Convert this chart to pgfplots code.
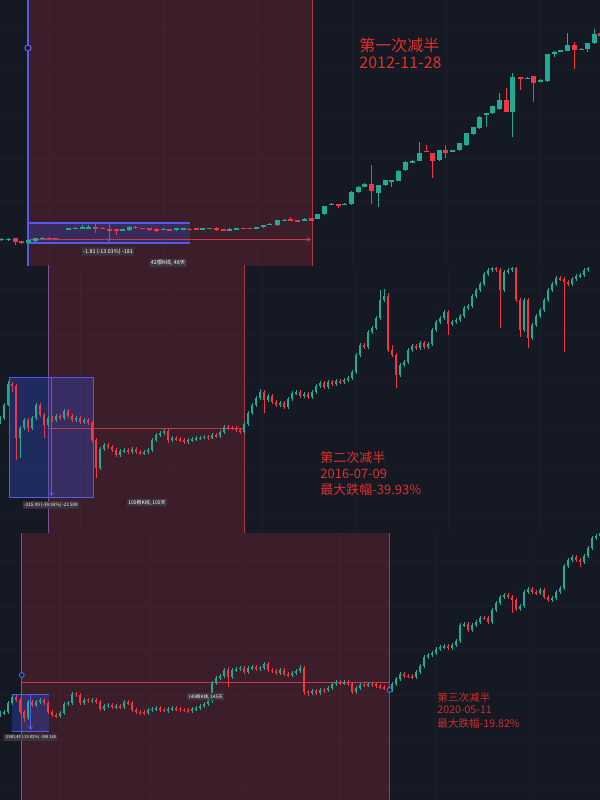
\documentclass[border=0pt]{standalone}
\usepackage{pgfplots}
\pgfplotsset{compat=1.18}
\usepackage{pgfplotstable}
\usepackage{fontspec}
\newfontfamily\cjk{Noto Sans CJK SC}
\usetikzlibrary{arrows.meta}

\definecolor{bg}{RGB}{21,25,36}
\definecolor{redreg}{RGB}{59,30,42}
\definecolor{cgreen}{RGB}{34,171,148}
\definecolor{cred}{RGB}{242,54,69}
\definecolor{tred}{RGB}{226,48,42}
\definecolor{tred3}{RGB}{208,44,40}
\definecolor{edgered}{RGB}{176,52,66}
\definecolor{edgepurple}{RGB}{130,80,150}
\definecolor{cblue}{RGB}{82,92,232}
\definecolor{boxblue}{RGB}{50,75,205}
\definecolor{lblbg}{RGB}{62,52,62}
\definecolor{hline}{RGB}{196,58,76}

% panel 1 candles (x, open, close, high, low) in picture units (y downward)
\pgfplotstableread{
x o c h l
1.9 239.8 238.8 238 240.5
8.4 240 238.7 238 241
15.3 238.3 241.7 237.5 245
21.8 241.3 242.3 240.5 243.5
28.7 242.7 240 239.5 243.5
35.6 240.7 238.3 237.5 241.5
42.1 238.7 237.7 237 239
49 237.6 238.4 237 239
55.5 238 238.7 237.5 239.3
68.9 229.3 228.3 228 229.8
75.4 228.6 227.6 227 229
82.3 228 227.2 224.5 228.5
88.8 228 227.2 224.7 228.5
95.7 226.7 228.7 224 233.3
102.6 227.5 228.5 227 229
109.1 228.7 230.3 228 231
116 229.3 231.3 228.5 235
122.5 230.3 229.3 228.8 231
129.4 230 226.7 226 230.5
135.9 226.7 228 226 228.5
142.7 228 228.7 227.5 229.2
149.3 228.3 230 227.8 230.5
156.1 228.7 230.7 228.2 231.5
163 229.8 228.8 228.3 230.3
169.5 229.1 229.9 228.5 230.5
176.4 230 228.3 227.8 230.5
183 229.2 228.4 228 229.6
189.4 228.7 229.3 228.2 229.8
196.3 228 229.7 227.5 230.2
202.8 229 228 227.5 229.5
209.7 228.7 228 227.5 229.2
216.2 227.7 230 227.2 230.5
223.1 229.3 230 228.8 230.5
229.6 230.7 228.7 228.2 231.2
236.5 229.2 228.4 228 229.6
243 228 228.7 227.6 229.1
249.5 228 228.7 227.6 229.1
256.4 228.7 227.3 226.8 229.2
263.3 227.3 225.3 224.8 227.8
269.8 224.6 223.8 223.3 225
277.5 225 220 219.5 225.5
284 220.5 219.5 219 221
290.9 219 220.7 217 221.2
297.7 220 221.7 219.5 222.2
304.3 220.7 218.7 218.2 221.2
311.1 218.3 220.7 217.8 221.2
317.6 218.7 214.3 213.8 219.2
324.5 214.3 206 205.5 214.8
331.4 204.6 203.6 202.5 205
338.3 204 206 203.5 208.3
344.8 204.5 203.6 203 205
351.3 204 191.7 191.2 204.5
358.2 192 186.7 186.2 192.5
364.7 186.7 184.3 183 187.2
371.2 184 190.7 165 204
378.1 192.7 185 184.5 206.7
385 185 180 179.5 185.5
391.9 181.7 180 179.5 187
398.8 180.7 170.7 170.2 181.2
405.7 170 161.7 161.2 170.5
412.5 162.7 160.7 160.2 163.2
419.1 160.7 152.7 141.7 161.2
426 150.7 151.7 145 152.2
432.5 153.3 160.7 152.8 178.3
439.3 160 150 149.5 160.5
445.8 150 152.7 145.3 158
452.7 151.7 150 149.5 152.2
459.2 150 143.3 142.8 150.5
466.1 145 133.3 132.8 145.5
473 134 127.3 126.8 134.5
479.9 128.3 116.7 116.2 128.8
486.8 115 113.3 112.8 126.7
492.9 113.3 106 105.5 113.8
499.4 109.3 100 93.3 109.8
506.3 100 111.7 88.3 112.2
512.8 111.7 77.3 73.3 136.7
520.5 77.3 79.3 76.8 90
527 78.8 77.8 77.3 79.3
533.9 76 82.7 75.5 101.7
540.4 81.2 80.2 79 81.7
547.3 81 54 53.5 81.5
554.2 54 51.7 51.2 57
560.6 51.7 50 49.5 52.2
567.5 50.7 45 33.3 51.2
574 45.3 50 42 69.3
581 49.5 48.5 48 50
587.8 49 43.3 42.8 52
594 43.3 34.3 29 43.8
600.5 33 36 32 36.5
}\pA

% panel 2 candles
\pgfplotstableread{
x o c h l
0 422 418 416 424
4 418 405 403 420
8 405 384 381 406
12 384 386 382 392
16 386 438 384 460
20 438 428 426 458
24 428 420 418 430
28 420 428 418 432
32 428 418 416 430
36 418 405 403 420
40 405 415 403 417
44 415 425 413 438
48 425 418 416 427
52 418 420 416 422
56 420 416 414 422
60 416 418 414 420
64 418 411 409 420
68 411 416 409 418
72 416 420 414 422
76 420 418 416 422
80 418 422 416 424
84 422 420 418 424
88 420 423 418 425
92 423 440 421 442
96 440 468 438 478
100 468 449 447 470
104 449 445 443 451
108 445 447 443 449
112 447 450 445 452
116 450 455 448 457
120 455 451 449 457
124 451 450 448 453
128 450 452 448 454
132 452 449 447 454
136 449 452 447 454
140 452 453 450 455
144 453 452 450 455
148 452 450 448 454
152 450 440 438 452
156 440 435 433 442
160 435 433 431 437
164 433 431 429 435
168 431 440 429 443
172 440 438 436 442
176 438 439 436 441
180 439 440 437 442
184 440 442 438 444
188 442 440 438 444
192 440 439 437 442
196 439 438.5 436 441
200 438.5 437.5 436 440
204 437.5 437 435 439
208 437 437.5 435 439.5
212 437.5 435 433 439
216 435 436 433 438
220 436 432 430 438
224 432 427 425 434
228 427 428 425 430
232 428 428.5 426 430
236 428.5 430 426 432
240 430 432 428 434
244 432 424 422 434
248 424 413 411 426
252 413 405 403 415
256 405 398 396 407
260 398 392 389 400
264 392 400 390 413
268 400 396 394 402
272 396 402 394 404
276 402 405 400 407
280 405 403 401 407
284 403 407 401 409
288 407 399 397 409
292 399 393 391 401
296 393 392 390 395
300 392 396 390 398
304 396 394 392 398
308 394 397 392 399
312 397 392 390 399
316 392 386 384 394
320 386 383 381 388
324 383 387 381 389
328 387 382 380 389
332 382 384 380 386
336 384 381 379 386
340 381 382 379 384
344 382 380 378 384
348 380 378 376 382
352 378 372 370 380
356 372 355 353 374
360 355 345 343 357
364 345 347 343 349
368 347 332 330 349
372 332 328 326 334
376 328 318 316 330
380 318 300 290 320
384 300 296 289 302
388 296 350 293 352
392 350 355 345 357
396 355 375 353 388
400 375 365 363 377
404 365 362 360 367
408 362 350 348 364
412 350 346 344 352
416 346 348 344 350
420 348 343 341 350
424 343 347 341 349
428 347 344 342 349
432 344 330 328 346
436 330 322 320 332
440 322 318 316 324
444 318 312 310 320
448 312 324 310 335
452 324 322 320 326
456 322 320 318 324
460 320 316 314 322
464 316 308 306 318
468 308 306 304 310
472 306 296 294 308
476 296 290 288 298
480 290 284 282 292
484 284 274 272 286
488 274 270 268 276
492 270 268 267 272
496 268 270 267 272
500 270 290 268 328
504 290 272 270 292
508 272 270 268 274
512 270 268 267 272
516 268 300 267 302
520 300 330 298 337
524 330 300 298 332
528 300 338 298 348
532 338 325 323 340
536 325 316 314 327
540 316 310 308 318
544 310 300 298 312
548 300 290 288 302
552 290 284 282 292
556 284 278 276 286
560 278 279 276 281
564 279 282 277 352
568 282 284 280 286
572 284 279 277 286
576 279 276 274 281
580 276 275 273 278
584 275 270 268 277
588 270 268 267 272
}\pB

% panel 3 candles
\pgfplotstableread{
x o c h l
0 715 713 711 717
4 713 712 710 715
8 712 703 701 714
12 703 697 695 705
16 697 700 695 702
20 700 712 698 714
24 712 718 710 722
28 718 702 700 720
32 702 705 700 707
36 705 702 700 707
40 702 700 698 704
44 700 703 698 705
48 703 712 701 714
52 712 715 710 717
56 715 716 713 718
60 716 713 711 718
64 713 704 702 715
68 704 703 701 706
72 703 694 692 705
76 694 695 692 697
80 695 703 693 705
84 703 700 698 705
88 700 701 698 703
92 701 700 698 703
96 700 702 698 704
100 702 709 700 711
104 709 706 704 711
108 706 705 703 708
112 705 707 703 709
116 707 706 704 709
120 706 707 704 709
124 707 702 700 709
128 702 703 700 705
132 703 710 701 712
136 710 712 708 714
140 712 712.5 710 714.5
144 712.5 713 710.5 715
148 713 710 708 715
152 710 709 707 712
156 709 708 706 711
160 708 710 706 712
164 710 710.5 708 712.5
168 710.5 709 707 712.5
172 709 708 706 711
176 708 709 706 711
180 709 710 707 712
184 710 710.5 708 712.5
188 710.5 711 708.5 713
192 711 709 707 713
196 709 708 706 711
200 708 706 704 710
204 706 704 702 708
208 704 701 699 706
212 701 683 681 703
216 683 678 676 685
220 678 676 674 680
224 676 670 668 678
228 670 677 667 687
232 677 670 668 679
236 670 669 667 672
240 669 668 666 671
244 668 672 666 674
248 672 668 666 674
252 668 667 665 670
256 667 669 665 671
260 669 668 666 671
264 668 664 662 670
268 664 670 662 672
272 670 671 668 673
276 671 673 669 675
280 673 670 668 675
284 670 674 668 676
288 674 675 672 677
292 675 673 671 677
296 673 671 669 675
300 671 668 665 673
304 668 692 666 695
308 692 693 690 696
312 693 691 689 695
316 691 693 689 695
320 693 690 688 695
324 690 690.5 688 692.5
328 690.5 688 686 692.5
332 688 684 682 690
336 684 682 680 686
340 682 683 680 685
344 683 682 680 685
348 682 684 680 686
352 684 692 682 694
356 692 688 686 694
360 688 685 683 690
364 685 685.5 683 687.5
368 685.5 684 682 687.5
372 684 684.5 682 686.5
376 684.5 686 682.5 688
380 686 687 684 689
384 687 688 685 690
388 688 690 686 692
392 690 684 682 692
396 684 679 677 686
400 679 674 672 681
404 674 676 672 678
408 676 676.5 674 678.5
412 676.5 677 674.5 679
416 677 672 670 679
420 672 666 664 674
424 666 657 655 668
428 657 655 653 659
432 655 653 651 657
436 653 649 647 655
440 649 647 645 651
444 647 646 644 649
448 646 648 644 650
452 648 645 643 650
456 645 641 639 647
460 641 625 623 643
464 625 624 622 627
468 624 630 622 632
472 630 625 623 632
476 625 622 620 627
480 622 618 616 624
484 618 618.5 616 620.5
488 618.5 622 616.5 624
492 622 610 608 624
496 610 603 601 612
500 603 597 595 605
504 597 595 593 599
508 595 597 593 599
512 597 600 595 613
516 600 609 598 611
520 609 606 604 611
524 606 592 590 608
528 592 589 587 594
532 589 592 587 594
536 592 593 590 595
540 593 590 588 595
544 590 597 588 599
548 597 600 595 602
552 600 598 596 602
556 598 592 590 600
560 592 588 586 594
564 588 566 564 590
568 566 560 558 568
572 560 557 555 562
576 557 560 555 562
580 560 562 558 567
584 562 556 554 564
588 556 548 546 558
592 548 538 536 550
596 538 536 534 540
600 536 533 532 538
}\pC

\pgfplotsset{
  candle/.style n args={2}{only marks, mark=*, mark size=0pt,
    mark options={draw opacity=0, fill opacity=0},
    error bars/.cd, y dir=both, y explicit, error mark=none,
    error bar style={draw=#1, draw opacity=1, line width=#2}},
}

\newcommand{\candles}[3]{%
  \addplot[restrict expr to domain={\thisrow{c}-\thisrow{o}}{-1000:0}, candle={cgreen}{#3}]
    table[x=x, y expr={(\thisrow{h}+\thisrow{l})/2}, y error expr={(\thisrow{l}-\thisrow{h})/2}] {#1};
  \addplot[restrict expr to domain={\thisrow{c}-\thisrow{o}}{-1000:0}, candle={cgreen}{#2}]
    table[x=x, y expr={(\thisrow{o}+\thisrow{c})/2}, y error expr={max(abs(\thisrow{c}-\thisrow{o})/2,0.45)}] {#1};
  \addplot[restrict expr to domain={\thisrow{c}-\thisrow{o}}{0.001:1000}, candle={cred}{#3}]
    table[x=x, y expr={(\thisrow{h}+\thisrow{l})/2}, y error expr={(\thisrow{l}-\thisrow{h})/2}] {#1};
  \addplot[restrict expr to domain={\thisrow{c}-\thisrow{o}}{0.001:1000}, candle={cred}{#2}]
    table[x=x, y expr={(\thisrow{o}+\thisrow{c})/2}, y error expr={max(abs(\thisrow{c}-\thisrow{o})/2,0.45)}] {#1};
}

\tikzset{
  lbl/.style={fill=lblbg, text=white, inner sep=0.7pt, rounded corners=0.3pt, font=\cjk\fontsize{2.7}{3}\selectfont},
  big/.style={anchor=west, text=tred, inner sep=0pt},
  grd/.style={white, opacity=0.025, line width=0.4pt},
}

\begin{document}
\begin{tikzpicture}
\begin{axis}[
  width=300pt, height=400pt, scale only axis,
  xmin=0, xmax=600, ymin=0, ymax=800, y dir=reverse,
  axis line style={draw=none}, ticks=none,
  axis background/.style={fill=bg},
  clip=true, clip marker paths=true,
]
% shaded halving regions
\fill[redreg] (axis cs:28,0) rectangle (axis cs:312,266);
\fill[redreg] (axis cs:48.6,265) rectangle (axis cs:244,533);
\fill[redreg] (axis cs:21.8,533) rectangle (axis cs:389.6,800);

% faint grid
\pgfplotsinvokeforeach{49,163,257,352,446,540}{\draw[grd] (axis cs:#1,0) -- (axis cs:#1,265);}
\pgfplotsinvokeforeach{27,70,113,157,200,243}{\draw[grd] (axis cs:0,#1) -- (axis cs:600,#1);}
\pgfplotsinvokeforeach{80,170,262,355,448,540}{\draw[grd] (axis cs:#1,267) -- (axis cs:#1,533);}
\pgfplotsinvokeforeach{290,335,380,425,470,515}{\draw[grd] (axis cs:0,#1) -- (axis cs:600,#1);}
\pgfplotsinvokeforeach{60,150,245,340,435,530}{\draw[grd] (axis cs:#1,533) -- (axis cs:#1,800);}
\pgfplotsinvokeforeach{560,605,650,695,740,785}{\draw[grd] (axis cs:0,#1) -- (axis cs:600,#1);}

% region edges
\draw[edgered, line width=0.5pt] (axis cs:312,0) -- (axis cs:312,266);
\draw[edgepurple, line width=0.5pt] (axis cs:48.6,265) -- (axis cs:48.6,533);
\draw[edgered, line width=0.5pt] (axis cs:244,265) -- (axis cs:244,533);
\draw[edgepurple, line width=0.5pt] (axis cs:21.8,533) -- (axis cs:21.8,800);
\draw[edgered, line width=0.5pt] (axis cs:389.6,533) -- (axis cs:389.6,800);

% measuring boxes
\fill[boxblue, fill opacity=0.3] (axis cs:28,223) rectangle (axis cs:190,243);
\draw[cblue, line width=0.6pt] (axis cs:28,223) -- (axis cs:190,223);
\draw[cblue, line width=0.6pt] (axis cs:28,243) -- (axis cs:190,243);
\draw[cblue, line width=0.4pt, -{Stealth[length=2pt,width=2.5pt]}] (axis cs:109,223) -- (axis cs:109,242);

\fill[boxblue, fill opacity=0.35] (axis cs:9.6,377) rectangle (axis cs:93.8,497);
\draw[cblue, line width=0.5pt] (axis cs:9.6,377) rectangle (axis cs:93.8,497);
\draw[cblue, line width=0.4pt, -{Stealth[length=2pt,width=2.5pt]}] (axis cs:51.5,377) -- (axis cs:51.5,496);

\fill[boxblue, fill opacity=0.35] (axis cs:11.5,694) rectangle (axis cs:49,731);
\draw[cblue, line width=0.5pt] (axis cs:11.5,694) -- (axis cs:49,694);
\draw[cblue, line width=0.5pt] (axis cs:11.5,731) -- (axis cs:49,731);
\draw[cblue, line width=0.4pt, -{Stealth[length=2pt,width=2.5pt]}] (axis cs:30.6,694) -- (axis cs:30.6,730);

% horizontal reference lines
\draw[hline, line width=0.45pt, -{Stealth[length=2pt,width=2.5pt]}] (axis cs:28,239.5) -- (axis cs:311,239.5);
\draw[hline, line width=0.45pt] (axis cs:48.6,428.3) -- (axis cs:244,428.3);
\draw[hline, line width=0.45pt] (axis cs:21.8,682.3) -- (axis cs:389.6,682.3);

% blue vertical line of panel 1
\draw[cblue, line width=0.8pt] (axis cs:28,0) -- (axis cs:28,266);
\draw[cblue, line width=0.6pt, fill=bg] (axis cs:28,48) circle[radius=1.5pt];

% candles
\candles{\pA}{2.5pt}{0.45pt}
\candles{\pB}{1.1pt}{0.35pt}
\candles{\pC}{1.1pt}{0.35pt}

\draw[cblue, line width=0.5pt, fill=bg] (axis cs:21.8,675) circle[radius=1.2pt];
\draw[cblue, line width=0.5pt, fill=bg] (axis cs:389.6,690) circle[radius=1.2pt];

% small labels
\node[lbl] at (axis cs:108,251.5) {-1.81 (-13.01\%) -181};
\node[lbl] at (axis cs:168,263) {42根K线, 48天};
\node[lbl, font=\cjk\fontsize{2.3}{3}\selectfont] at (axis cs:51,505) {-215.09 (-39.93\%) -21 509};
\node[lbl, font=\cjk\fontsize{2.5}{3}\selectfont] at (axis cs:147,502.5) {105根K线, 105天};
\node[lbl, font=\cjk\fontsize{2}{3}\selectfont] at (axis cs:30.5,737.5) {-2981.45 (-19.82\%) -298 145};
\node[lbl, font=\cjk\fontsize{2.3}{3}\selectfont] at (axis cs:205.5,696.5) {145根K线, 145天};

% big annotations
\node[big, font=\cjk\fontsize{8}{9}\selectfont] at (axis cs:359,45) {第一次减半};
\node[big, font=\cjk\fontsize{8}{9}\selectfont] at (axis cs:359,63) {2012-11-28};
\node[big, font=\cjk\fontsize{6.5}{7.5}\selectfont] at (axis cs:320,457.7) {第二次减半};
\node[big, font=\cjk\fontsize{6.5}{7.5}\selectfont] at (axis cs:320,474) {2016-07-09};
\node[big, font=\cjk\fontsize{6.5}{7.5}\selectfont] at (axis cs:320,490) {最大跌幅-39.93\%};
\node[big, text=tred3, font=\cjk\fontsize{5.3}{6.3}\selectfont] at (axis cs:437,697) {第三次减半};
\node[big, text=tred3, font=\cjk\fontsize{5.3}{6.3}\selectfont] at (axis cs:437,710) {2020-05-11};
\node[big, text=tred3, font=\cjk\fontsize{5.3}{6.3}\selectfont] at (axis cs:437,723) {最大跌幅-19.82\%};
\end{axis}
\end{tikzpicture}
\end{document}
